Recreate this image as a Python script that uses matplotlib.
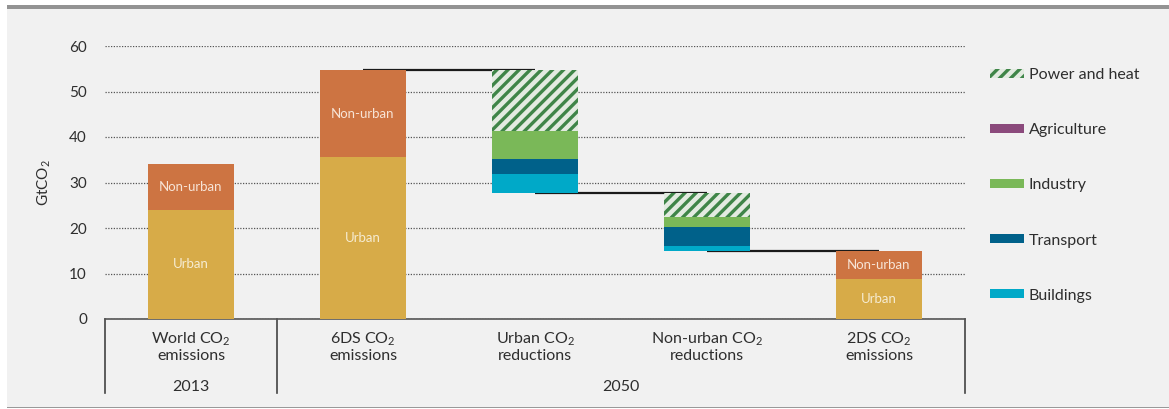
#!/usr/bin/env python3

import matplotlib
matplotlib.use("Agg")
import matplotlib.pyplot as plt
from matplotlib.patches import Patch, Rectangle
import numpy as np

plt.rcParams['font.family'] = ['Lato', 'DejaVu Sans']
plt.rcParams['mathtext.fontset'] = 'custom'
plt.rcParams['mathtext.rm'] = 'Lato'
plt.rcParams['hatch.linewidth'] = 2.4

# data (GtCO2)
categories = ["World CO$_\\mathregular{2}$\nemissions", "6DS CO$_\\mathregular{2}$\nemissions",
              "Urban CO$_\\mathregular{2}$\nreductions", "Non-urban CO$_\\mathregular{2}$\nreductions",
              "2DS CO$_\\mathregular{2}$\nemissions"]
emission_bars = [0, 1, 4]
urban = [24.0, 35.6, 8.8]
non_urban = [10.0, 19.1, 6.1]

sectors = ["Buildings", "Transport", "Industry", "Agriculture", "Power and heat"]
urban_cuts = [4.2, 3.3, 6.1, 0.0, 13.4]
nonurban_cuts = [1.1, 4.2, 2.2, 0.0, 5.3]

years = ["2013", "2050"]

c_urban = '#d7ab48'
c_nonurban = '#cd7442'
sector_colors = {"Buildings": '#00a9c8', "Transport": '#00618a', "Industry": '#7ab858',
                 "Agriculture": '#8b4a7c', "Power and heat": '#e3ebe1'}
hatch_col = '#3f8548'
txt = '#2e2e2e'

fig = plt.figure(figsize=(11.69, 4.09), dpi=100)
fig.patch.set_facecolor('white')
# panel background and borders
fig.patches.append(Rectangle((7/1169, 2/409), 1 - 7/1169, 398/409, transform=fig.transFigure,
                             facecolor='#f1f1f1', edgecolor='none', zorder=-10))
fig.patches.append(Rectangle((7/1169, 400/409), 1 - 7/1169, 3.5/409, transform=fig.transFigure,
                             facecolor='#939393', edgecolor='none', zorder=-9))
fig.patches.append(Rectangle((7/1169, 1/409), 1 - 7/1169, 1.5/409, transform=fig.transFigure,
                             facecolor='#999999', edgecolor='none', zorder=-9))

ax = fig.add_axes([105/1169, 90/409, 860/1169, 273/409])
ax.set_facecolor('none')
w = 0.5

# emission bars
x_em = np.array(emission_bars)
ax.bar(x_em, urban, w, color=c_urban, zorder=3)
ax.bar(x_em, non_urban, w, bottom=urban, color=c_nonurban, zorder=3)
for xi, u, n in zip(x_em, urban, non_urban):
    ax.text(xi, u / 2, "Urban", ha='center', va='center', color='#f6ecd2', fontsize=9.5, zorder=4)
    ax.text(xi, u + n / 2, "Non-urban", ha='center', va='center', color='#f7e4d6', fontsize=9.5,
            zorder=4)

totals = [u + n for u, n in zip(urban, non_urban)]

# reduction bars (waterfall)
start = totals[1]
levels = [start]
for xi, cuts in [(2, urban_cuts), (3, nonurban_cuts)]:
    bottom = start - sum(cuts)
    b = bottom
    for s, v in zip(sectors, cuts):
        if v > 0:
            if s == "Power and heat":
                ax.bar(xi, v, w, bottom=b, color=sector_colors[s], edgecolor=hatch_col,
                       linewidth=0, hatch='///', zorder=3)
            else:
                ax.bar(xi, v, w, bottom=b, color=sector_colors[s], zorder=3)
        b += v
    start = bottom
    levels.append(start)

# connector lines
for i, lv in enumerate(levels):
    ax.plot([1 + i, 2 + i], [lv, lv], color='#1a1a1a', lw=1.6, zorder=2, solid_capstyle='butt')

ax.set_xlim(-0.5, 4.5)
ax.set_ylim(0, 60)
ax.set_yticks(range(0, 61, 10))
ax.yaxis.grid(True, linestyle=(0, (1, 1.2)), color='#555555', lw=0.9, zorder=0)
ax.set_axisbelow(True)
ax.tick_params(axis='y', length=0, pad=13, labelsize=11, labelcolor=txt)
ax.set_xticks([])
for sp in ['top', 'right', 'left']:
    ax.spines[sp].set_visible(False)
ax.spines['bottom'].set_color('#555555')
ax.spines['bottom'].set_linewidth(1.2)
ax.set_ylabel("GtCO$_\\mathregular{2}$", fontsize=11, color=txt, labelpad=12)

# category and year labels below the axis
trans = ax.get_xaxis_transform()
for i, c in enumerate(categories):
    ax.text(i, -0.04, c, transform=trans, ha='center', va='top', fontsize=11.5,
            color=txt, linespacing=1.15)
ax.text(0, -0.222, years[0], transform=trans, ha='center', va='top', fontsize=11.5, color=txt)
ax.text(2.5, -0.222, years[1], transform=trans, ha='center', va='top', fontsize=11.5, color=txt)
for xv in [-0.5, 0.5, 4.5]:
    ax.plot([xv, xv], [0, -0.272], transform=trans, color='#444444', lw=1.2, clip_on=False)

# legend
handles = []
for s in reversed(sectors):
    if s == "Power and heat":
        handles.append(Patch(facecolor=sector_colors[s], edgecolor=hatch_col, linewidth=0,
                             hatch='///', label=s))
    else:
        handles.append(Patch(facecolor=sector_colors[s], linewidth=0, label=s))
fig.legend(handles=handles, loc='upper left', bbox_to_anchor=(976/1169, 355/409),
           frameon=False, fontsize=11.5, labelspacing=2.57, handlelength=2.1,
           handleheight=0.5, handletextpad=0.3, labelcolor=txt)

fig.savefig("out.png", dpi=100, facecolor=fig.get_facecolor())
